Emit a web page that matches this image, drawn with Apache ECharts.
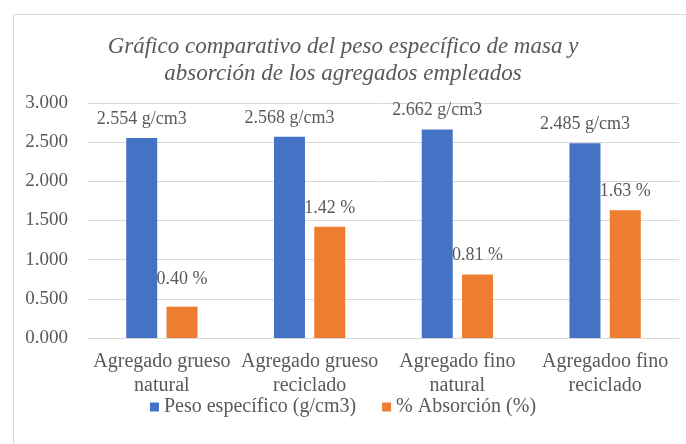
<!DOCTYPE html>
<html>
<head>
<meta charset="utf-8">
<script src="https://cdn.jsdelivr.net/npm/echarts@6/dist/echarts.min.js"></script>
<style>html,body{margin:0;padding:0;background:#fff}#c{width:686px;height:444px}</style>
</head>
<body>
<div id="c"></div>
<script>
const categories = ['Agregado grueso\nnatural', 'Agregado grueso\nreciclado', 'Agregado fino\nnatural', 'Agregadoo fino\nreciclado'];
const pesoEspecifico = [2.554, 2.568, 2.662, 2.485];
const absorcion = [0.40, 1.42, 0.81, 1.63];
const seriesNames = ['Peso específico (g/cm3)', '% Absorción (%)'];
const yTicks = [0, 0.5, 1, 1.5, 2, 2.5, 3];

const FF = 'Liberation Serif';
const grey = '#595959';
const option = {
  animationDuration: 1,
  animationDurationUpdate: 1,
  textStyle: {fontFamily: FF},
  graphic: [{
    type: 'rect', left: 11, top: 12, shape: {width: 700, height: 460},
    style: {fill: 'none', stroke: '#d9d9d9', lineWidth: 1}, silent: true
  }],
  title: {
    text: 'Gráfico comparativo del peso específico de masa y\nabsorción de los agregados empleados',
    left: 'center', top: 28,
    textStyle: {fontFamily: FF, fontStyle: 'italic', fontWeight: 'normal', fontSize: 23, color: grey, lineHeight: 27}
  },
  legend: {
    bottom: 22, left: 'center', itemWidth: 9, itemHeight: 9, itemGap: 26,
    icon: 'rect',
    textStyle: {fontFamily: FF, fontSize: 20, color: grey},
    data: seriesNames
  },
  grid: {left: 88, right: 7, top: 103, bottom: 106},
  xAxis: {
    type: 'category', data: categories,
    axisLine: {lineStyle: {color: '#d9d9d9'}},
    axisTick: {show: false},
    axisLabel: {fontFamily: FF, fontSize: 20, color: grey, lineHeight: 24, margin: 12, interval: 0}
  },
  yAxis: {
    type: 'value', min: yTicks[0], max: yTicks[yTicks.length - 1], interval: 0.5,
    axisLine: {show: false}, axisTick: {show: false},
    splitLine: {lineStyle: {color: '#d9d9d9'}},
    axisLabel: {fontFamily: FF, fontSize: 19, color: grey, margin: 20, formatter: v => v.toFixed(3)}
  },
  series: [
    {
      name: seriesNames[0], type: 'bar', data: pesoEspecifico, barWidth: 31, barGap: '30%',
      itemStyle: {color: '#4472C4'},
      label: {show: true, position: 'top', distance: 10, fontFamily: FF, fontSize: 18, color: grey,
        formatter: p => p.value.toFixed(3) + ' g/cm3'}
    },
    {
      name: seriesNames[1], type: 'bar',
      data: absorcion.map((v, i) => i === 0 ? {value: v, label: {distance: 18}} : v),
      barWidth: 31,
      itemStyle: {color: '#ED7D31'},
      label: {show: true, position: 'top', distance: 10, fontFamily: FF, fontSize: 18, color: grey,
        formatter: p => p.value.toFixed(2) + ' %'}
    }
  ]
};
const chart = echarts.init(document.getElementById('c'));
chart.setOption(option);
</script>
</body>
</html>
